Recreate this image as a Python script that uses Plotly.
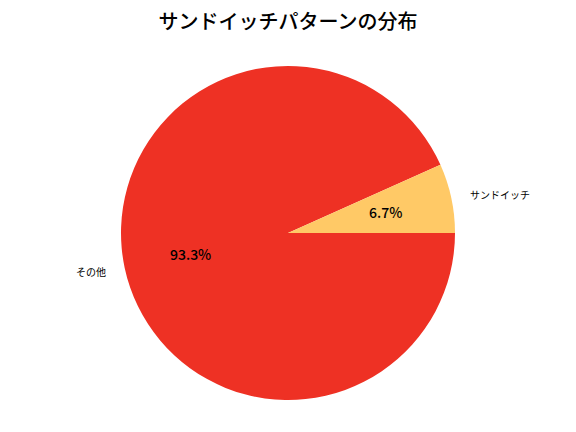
import numpy as np
import plotly.graph_objects as go

# Data
labels = ["サンドイッチ", "その他"]
values = [6.7, 93.3]
colors = ["#FFC966", "#EE3124"]

W, H = 576, 432
m_top, m_bot = 66, 32
plot_h = H - m_top - m_bot
r_x = (plot_h / 2) / W  # radius in paper x units
r_y = 0.5               # radius in paper y units

# plotly draws clockwise from 3 o'clock; feeding the slices in reverse gives
# matplotlib's counterclockwise-from-0° layout
fig = go.Figure(
    go.Pie(
        labels=labels[::-1],
        values=values[::-1],
        marker=dict(colors=colors[::-1], line=dict(width=0)),
        sort=False,
        direction="clockwise",
        rotation=90,
        textinfo="none",
        hoverinfo="label+percent",
        showlegend=False,
    )
)

# label / percent annotations placed like matplotlib (labeldistance 1.1, pctdistance 0.6)
font = "Noto Sans CJK JP, sans-serif"
total = sum(values)
start = 0.0
annotations = []
for lab, v in zip(labels, values):
    mid = np.deg2rad((start + v / 2) / total * 360)
    start += v
    cx, cy = np.cos(mid), np.sin(mid)
    annotations.append(dict(
        x=0.5 + 0.6 * r_x * cx, y=0.5 + 0.6 * r_y * cy,
        xref="paper", yref="paper", showarrow=False,
        xanchor="center", yanchor="middle",
        text=f"{v / total * 100:.1f}%",
        font=dict(family=font, size=14, color="black", weight=500),
    ))
    annotations.append(dict(
        x=0.5 + 1.1 * r_x * cx, y=0.5 + 1.1 * r_y * cy,
        xref="paper", yref="paper", showarrow=False,
        xanchor="left" if cx > 0 else "right", yanchor="middle",
        text=lab,
        font=dict(family=font, size=10, color="black"),
    ))

fig.update_layout(
    title=dict(text="サンドイッチパターンの分布", x=0.5, xanchor="center",
               y=1 - 22 / H, yanchor="middle",
               font=dict(family=font, size=20, color="black", weight=500)),
    annotations=annotations,
    margin=dict(l=0, r=0, t=m_top, b=m_bot, autoexpand=False),
    width=W, height=H,
    paper_bgcolor="white",
    plot_bgcolor="white",
)

fig.write_html("out.html", config={"displayModeBar": False},
               post_script="document.body.style.margin='0';")
